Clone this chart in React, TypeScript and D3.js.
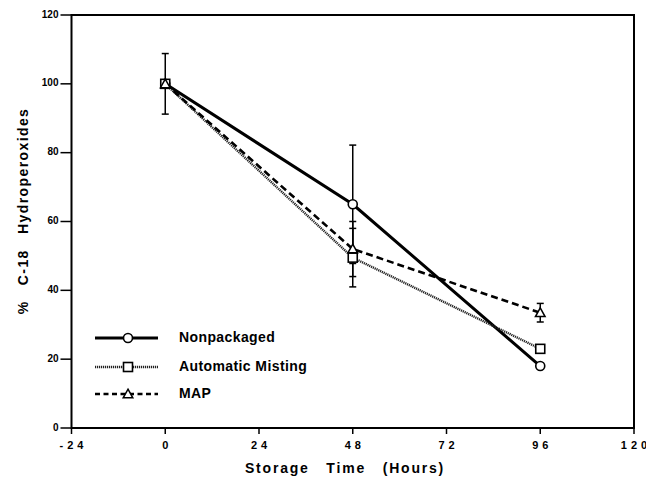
import React from "react";
import * as d3 from "d3";

const hours = [0, 48, 96];
const nonpackaged = [100, 65, 18];
const nonpackagedErr = [8.8, 17.2, 0];
const misting = [100, 49.5, 23];
const mistingErr = [0, 8.5, 0];
const mapVals = [100, 52, 33.5];
const mapErr = [0, 8, 2.7];
const xTicks = [-24, 0, 24, 48, 72, 96, 120];
const yTicks = [0, 20, 40, 60, 80, 100, 120];
const legendLabels = ["Nonpackaged", "Automatic Misting", "MAP"];

const W = 646, H = 483;
const L = 71.5, R = 634, T = 15, B = 428;

export default function App() {
  const x = d3.scaleLinear().domain([-24, 120]).range([L, R]);
  const y = d3.scaleLinear().domain([0, 120]).range([B, T]);
  const line = d3.line<[number, number]>().x(d => x(d[0])).y(d => y(d[1]));
  const mk = (v: number[]) => hours.map((h, i) => [h, v[i]] as [number, number]);
  const font = "'Liberation Sans', Arial, Helvetica, sans-serif";

  const series = [
    { vals: nonpackaged, err: nonpackagedErr, dash: "none", width: 3, marker: "circle" },
    { vals: misting, err: mistingErr, dash: "1.2,0.8", width: 2.4, marker: "square" },
    { vals: mapVals, err: mapErr, dash: "7,4", width: 2.6, marker: "triangle" },
  ];

  const marker = (type: string, cx: number, cy: number, key: string) => {
    if (type === "circle") return <circle key={key} cx={cx} cy={cy} r={4.5} fill="#fff" stroke="#000" strokeWidth={1.6} />;
    if (type === "square") return <rect key={key} x={cx - 4.5} y={cy - 4.5} width={9} height={9} fill="#fff" stroke="#000" strokeWidth={1.6} />;
    const s = 4.8;
    return <path key={key} d={`M${cx},${cy - s}L${cx + s},${cy + s * 0.8}L${cx - s},${cy + s * 0.8}Z`} fill="#fff" stroke="#000" strokeWidth={1.5} />;
  };

  const legendY = [338, 367, 394];

  return (
    <svg width={W} height={H} style={{ position: "absolute", left: 0, top: 0, background: "#fff" }} fontFamily={font}>
      <rect x={0} y={0} width={W} height={H} fill="#fff" />
      {/* frame */}
      <rect x={L} y={T} width={R - L} height={B - T} fill="none" stroke="#000" strokeWidth={2} />
      {/* y ticks */}
      {yTicks.map(t => (
        <g key={"y" + t}>
          <line x1={L - 11} x2={L} y1={y(t)} y2={y(t)} stroke="#000" strokeWidth={1.5} />
          <text x={L - 13} y={y(t)} textAnchor="end" dominantBaseline="middle" fontSize={10} fontWeight="bold">{t}</text>
        </g>
      ))}
      {/* x ticks */}
      {xTicks.map(t => (
        <g key={"x" + t}>
          <line x1={x(t)} x2={x(t)} y1={B} y2={B + 6} stroke="#000" strokeWidth={1.5} />
          <text x={x(t) + 2} y={B + 18} textAnchor="middle" dominantBaseline="middle" fontSize={11} fontWeight="bold" letterSpacing={4}>{String(t)}</text>
        </g>
      ))}
      {/* axis titles */}
      <text x={345} y={469} textAnchor="middle" dominantBaseline="middle" fontSize={14} fontWeight="bold" letterSpacing={1.8} wordSpacing={11}>Storage Time (Hours)</text>
      <text transform={`translate(24,${211}) rotate(-90)`} textAnchor="middle" dominantBaseline="middle" fontSize={14} fontWeight="bold" letterSpacing={1.4} wordSpacing={10}>% C-18 Hydroperoxides</text>
      {/* error bars */}
      {series.map((s, si) => hours.map((h, i) => s.err[i] > 0 ? (
        <g key={`e${si}-${i}`} stroke="#000" strokeWidth={1.5}>
          <line x1={x(h)} x2={x(h)} y1={y(s.vals[i] - s.err[i])} y2={y(s.vals[i] + s.err[i])} />
          <line x1={x(h) - 3.5} x2={x(h) + 3.5} y1={y(s.vals[i] + s.err[i])} y2={y(s.vals[i] + s.err[i])} />
          <line x1={x(h) - 3.5} x2={x(h) + 3.5} y1={y(s.vals[i] - s.err[i])} y2={y(s.vals[i] - s.err[i])} />
        </g>
      ) : null))}
      {/* lines */}
      {series.map((s, si) => (
        <path key={"l" + si} d={line(mk(s.vals)) || ""} fill="none" stroke={si === 1 ? "#222" : "#000"} strokeWidth={s.width} strokeDasharray={s.dash} />
      ))}
      {/* markers */}
      {series.map((s, si) => hours.map((h, i) => marker(s.marker, x(h), y(s.vals[i]), `m${si}-${i}`)))}
      {/* legend */}
      {series.map((s, si) => (
        <g key={"lg" + si}>
          <line x1={95} x2={158} y1={legendY[si]} y2={legendY[si]} stroke={si === 1 ? "#222" : "#000"} strokeWidth={s.width} strokeDasharray={si === 2 ? "5,3.5" : s.dash} />
          {marker(s.marker, 128, legendY[si], "lm" + si)}
          <text x={179} y={legendY[si]} dominantBaseline="middle" fontSize={14} fontWeight="bold" letterSpacing={0.4}>{legendLabels[si]}</text>
        </g>
      ))}
    </svg>
  );
}
